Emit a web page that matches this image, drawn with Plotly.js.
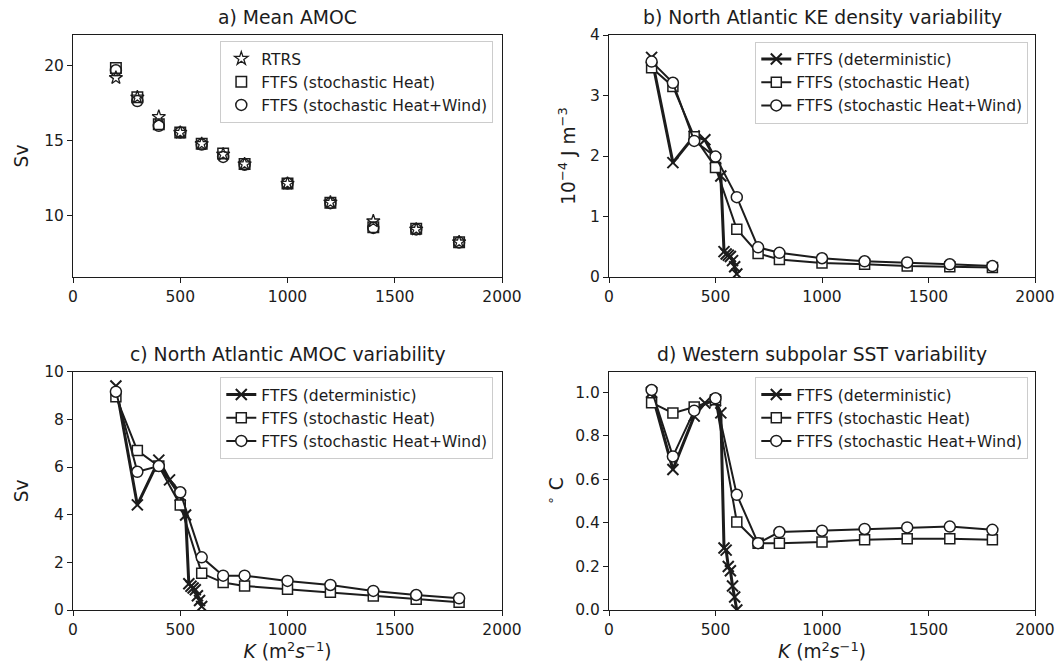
<!DOCTYPE html>
<html>
<head>
<meta charset="utf-8">
<script src="https://cdn.plot.ly/plotly-3.0.1.min.js"></script>
<style>html,body{margin:0;padding:0;background:#fff;}#chart{width:1062px;height:667px;}</style>
</head>
<body>
<div id="chart"></div>
<script>
// ---------- data ----------
const stochK = [200, 300, 400, 500, 600, 700, 800, 1000, 1200, 1400, 1600, 1800];
const detK   = [200, 300, 400, 450, 500, 525, 540, 550, 560, 570, 580, 590, 600];

// a) Mean AMOC (Sv)
const amocRTRS      = [19.2, 17.9, 16.6, 15.55, 14.8, 14.1, 13.45, 12.15, 10.9, 9.65, 9.1, 8.25];
const amocHeat      = [19.85, 17.9, 16.1, 15.55, 14.8, 14.15, 13.45, 12.15, 10.87, 9.25, 9.15, 8.25];
const amocHeatWind  = [19.7, 17.65, 16.0, 15.55, 14.75, 13.93, 13.4, 12.15, 10.85, 9.2, 9.1, 8.22];

// b) North Atlantic KE density variability (1e-4 J m-3)
const keDet      = [3.63, 1.89, 2.33, 2.27, 1.95, 1.67, 0.42, 0.38, 0.36, 0.34, 0.27, 0.17, 0.05];
const keHeat     = [3.46, 3.15, 2.32, 1.81, 0.79, 0.39, 0.29, 0.23, 0.21, 0.18, 0.17, 0.155];
const keHeatWind = [3.56, 3.21, 2.25, 1.99, 1.32, 0.49, 0.40, 0.31, 0.26, 0.24, 0.21, 0.18];

// c) North Atlantic AMOC variability (Sv)
const avDet      = [9.4, 4.41, 6.29, 5.46, 4.8, 3.99, 1.1, 1.0, 0.92, 0.85, 0.6, 0.4, 0.15];
const avHeat     = [8.95, 6.69, 6.04, 4.41, 1.54, 1.15, 1.01, 0.87, 0.74, 0.59, 0.45, 0.32];
const avHeatWind = [9.16, 5.80, 6.04, 4.94, 2.21, 1.44, 1.44, 1.22, 1.05, 0.80, 0.63, 0.49];

// d) Western subpolar SST variability (deg C)
const sstDet      = [1.0, 0.645, 0.89, 0.95, 0.96, 0.905, 0.285, 0.275, 0.2, 0.18, 0.11, 0.06, 0.0];
const sstHeat     = [0.952, 0.904, 0.932, 0.965, 0.404, 0.307, 0.307, 0.312, 0.322, 0.327, 0.327, 0.322];
const sstHeatWind = [1.01, 0.705, 0.915, 0.972, 0.529, 0.307, 0.358, 0.364, 0.372, 0.379, 0.383, 0.368];

const xTicks = [0, 500, 1000, 1500, 2000];

const nameRTRS = 'RTRS';
const nameDet = 'FTFS (deterministic)';
const nameHeat = 'FTFS (stochastic Heat)';
const nameHW = 'FTFS (stochastic Heat+Wind)';

// ---------- styles ----------
const K = '#1c1c1c';
const FONT = 'DejaVu Sans, sans-serif';
const TICK = 15.5, LEG = 15.5, LAB = 18.6, TTL = 18.8;

function detTrace(x, y, xa, ya, lg) {
  return {x: x, y: y, xaxis: xa, yaxis: ya, legend: lg, name: nameDet, type: 'scatter', mode: 'lines+markers',
    line: {color: K, width: 3}, marker: {symbol: 'x-thin-open', size: 11, color: K, line: {color: K, width: 2}}};
}
function sqTrace(x, y, xa, ya, lg) {
  return {x: x, y: y, xaxis: xa, yaxis: ya, legend: lg, name: nameHeat, type: 'scatter', mode: 'lines+markers',
    line: {color: K, width: 2}, marker: {symbol: 'square', size: 10, color: '#fff', line: {color: K, width: 1.5}}};
}
function ciTrace(x, y, xa, ya, lg) {
  return {x: x, y: y, xaxis: xa, yaxis: ya, legend: lg, name: nameHW, type: 'scatter', mode: 'lines+markers',
    line: {color: K, width: 2}, marker: {symbol: 'circle', size: 11, color: '#fff', line: {color: K, width: 1.5}}};
}

const traces = [
  {x: stochK, y: amocRTRS, xaxis: 'x', yaxis: 'y', legend: 'legend', name: nameRTRS, type: 'scatter', mode: 'markers',
    marker: {symbol: 'star-open', size: 10, color: K, line: {color: K, width: 1.3}}},
  {x: stochK, y: amocHeat, xaxis: 'x', yaxis: 'y', legend: 'legend', name: nameHeat, type: 'scatter', mode: 'markers',
    marker: {symbol: 'square-open', size: 10.5, color: K, line: {color: K, width: 1.5}}},
  {x: stochK, y: amocHeatWind, xaxis: 'x', yaxis: 'y', legend: 'legend', name: nameHW, type: 'scatter', mode: 'markers',
    marker: {symbol: 'circle-open', size: 11, color: K, line: {color: K, width: 1.5}}},

  detTrace(detK, keDet, 'x2', 'y2', 'legend2'),
  sqTrace(stochK, keHeat, 'x2', 'y2', 'legend2'),
  ciTrace(stochK, keHeatWind, 'x2', 'y2', 'legend2'),

  detTrace(detK, avDet, 'x3', 'y3', 'legend3'),
  sqTrace(stochK, avHeat, 'x3', 'y3', 'legend3'),
  ciTrace(stochK, avHeatWind, 'x3', 'y3', 'legend3'),

  detTrace(detK, sstDet, 'x4', 'y4', 'legend4'),
  sqTrace(stochK, sstHeat, 'x4', 'y4', 'legend4'),
  ciTrace(stochK, sstHeatWind, 'x4', 'y4', 'legend4')
];

const W = 1062, H = 667;
const colL = [73 / W, 502 / W], colR = [609 / W, 1035 / W];
const rowT = [1 - 277 / H, 1 - 35 / H], rowB = [1 - 610 / H, 1 - 371.7 / H];

function xax(domain, anchor, title) {
  const a = {domain: domain, anchor: anchor, range: [0, 2000], tickvals: xTicks, ticks: 'outside', ticklen: 5,
    tickwidth: 1, tickcolor: K, showline: true, mirror: true, linecolor: K, linewidth: 1, showgrid: false,
    zeroline: false, tickfont: {family: FONT, size: TICK, color: K}, automargin: false};
  if (title) a.title = {text: title, font: {family: FONT, size: LAB, color: K}, standoff: 5};
  return a;
}
function yax(domain, anchor, range, tickvals, title, fmt, so) {
  const a = {domain: domain, anchor: anchor, range: range, tickvals: tickvals, ticks: 'outside', ticklen: 5,
    tickwidth: 1, tickcolor: K, showline: true, mirror: true, linecolor: K, linewidth: 1, showgrid: false,
    zeroline: false, tickfont: {family: FONT, size: TICK, color: K}, automargin: false,
    title: {text: title, font: {family: FONT, size: LAB, color: K}, standoff: so}};
  if (fmt) a.tickformat = fmt;
  return a;
}
function leg(xr, yt) {
  return {x: xr, y: yt, xanchor: 'right', yanchor: 'top', xref: 'paper', yref: 'paper',
    bgcolor: 'rgba(255,255,255,0.85)', bordercolor: '#cccccc', borderwidth: 1,
    font: {family: FONT, size: LEG, color: K}, tracegroupgap: 0, itemwidth: 30};
}
function ttl(text, x, y) {
  return {text: text, x: x, y: y, xref: 'paper', yref: 'paper', xanchor: 'center', yanchor: 'bottom',
    showarrow: false, font: {family: FONT, size: TTL, color: K}};
}

const xLab = '<i>K</i> (m<sup>2</sup><i>s</i><sup>−1</sup>)';

const layout = {
  width: W, height: H, margin: {l: 0, r: 0, t: 0, b: 0}, paper_bgcolor: '#fff', plot_bgcolor: '#fff',
  font: {family: FONT, color: K},
  xaxis: xax(colL, 'y', null),
  yaxis: yax(rowT, 'x', [5.93, 22.05], [10, 15, 20], 'Sv', null, 10),
  xaxis2: xax(colR, 'y2', null),
  yaxis2: yax(rowT, 'x2', [0, 4], [0, 1, 2, 3, 4], '10<sup>−4</sup> J m<sup>−3</sup>', null, 9),
  xaxis3: xax(colL, 'y3', xLab),
  yaxis3: yax(rowB, 'x3', [0, 10], [0, 2, 4, 6, 8, 10], 'Sv', null, 10),
  xaxis4: xax(colR, 'y4', xLab),
  yaxis4: yax(rowB, 'x4', [0, 1.094], [0, 0.2, 0.4, 0.6, 0.8, 1.0], '<sup>∘</sup> C', '.1f', 6),
  legend: leg(493.3 / W, 1 - 41 / H),
  legend2: leg(1028.3 / W, 1 - 41.5 / H),
  legend3: leg(493.3 / W, 1 - 377 / H),
  legend4: leg(1028.3 / W, 1 - 377 / H),
  annotations: [
    ttl('a) Mean AMOC', 287.5 / W, 1 - 30 / H),
    ttl('b) North Atlantic KE density variability', 822 / W, 1 - 30 / H),
    ttl('c) North Atlantic AMOC variability', 287.5 / W, 1 - 366.5 / H),
    ttl('d) Western subpolar SST variability', 822 / W, 1 - 366.5 / H)
  ]
};

Plotly.newPlot('chart', traces, layout, {displayModeBar: false, staticPlot: true});
</script>
</body>
</html>
